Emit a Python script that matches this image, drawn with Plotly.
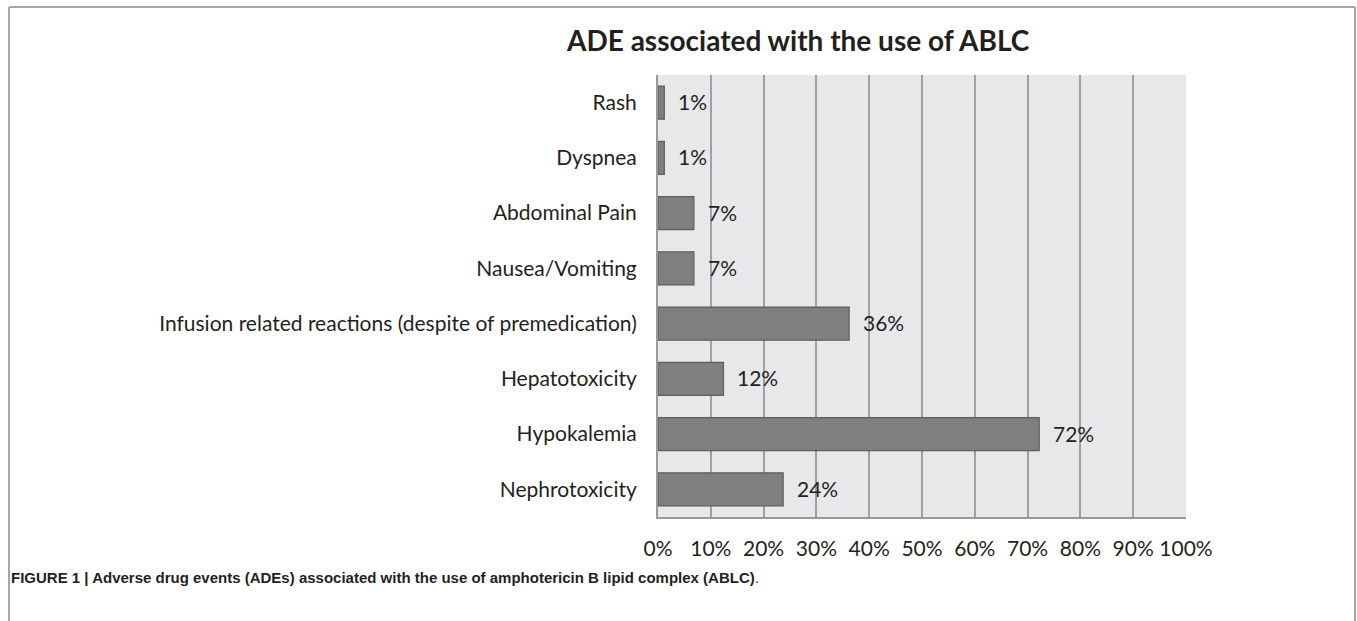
import plotly.graph_objects as go

categories = ["Nephrotoxicity", "Hypokalemia", "Hepatotoxicity",
              "Infusion related reactions (despite of premedication)",
              "Nausea/Vomiting", "Abdominal Pain", "Dyspnea", "Rash"]
values = [23.7, 72.2, 12.4, 36.2, 6.8, 6.8, 1.2, 1.2]
value_labels = ["24%", "72%", "12%", "36%", "7%", "7%", "1%", "1%"]
x_ticks = [0, 10, 20, 30, 40, 50, 60, 70, 80, 90, 100]
x_tick_labels = [f"{t}%" for t in x_ticks]

title_text = "ADE associated with the use of ABLC"
caption_text = ("<b>FIGURE 1 | Adverse drug events (ADEs) associated with the use of "
                "amphotericin B lipid complex (ABLC)</b>.")

W, H = 1357, 621
L, R, T, B = 658, 1186, 75, 517
pw, ph = R - L, B - T

def px(x):
    return (x - L) / pw

def py(y):
    return (B - y) / ph

FONT = "Lato"
TXT = "#231f20"

fig = go.Figure()
fig.add_trace(go.Bar(
    y=categories, x=values, orientation="h",
    marker=dict(color="#7f7f81", line=dict(color="#5e5e60", width=1.2)),
    width=0.6, hoverinfo="skip",
))

annotations = []
for c, v, lab in zip(categories, values, value_labels):
    annotations.append(dict(x=v, y=c, xref="x", yref="y", text=lab, showarrow=False,
                            xanchor="left", xshift=12, yshift=1,
                            font=dict(family=FONT, size=21, color=TXT)))
annotations.append(dict(x=px(798), y=py(40), xref="paper", yref="paper", text=f"<b>{title_text}</b>",
                        showarrow=False, xanchor="center", yanchor="middle",
                        font=dict(family=FONT, size=28, color=TXT)))
annotations.append(dict(x=px(9), y=py(577), xref="paper", yref="paper", text=caption_text,
                        showarrow=False, xanchor="left", yanchor="middle",
                        font=dict(family="Liberation Sans", size=15, color=TXT)))

border = dict(color="#a6a6a6", width=2)
shapes = [
    dict(type="line", xref="paper", yref="paper", x0=px(9), x1=px(9), y0=py(621), y1=py(7), line=border),
    dict(type="line", xref="paper", yref="paper", x0=px(9), x1=px(1355), y0=py(7), y1=py(7), line=border),
    dict(type="line", xref="paper", yref="paper", x0=px(1355), x1=px(1355), y0=py(7), y1=py(621), line=border),
]

fig.update_layout(
    width=W, height=H,
    margin=dict(l=L, r=W - R, t=T, b=H - B, pad=0),
    paper_bgcolor="white", plot_bgcolor="#e8e8ea",
    showlegend=False,
    annotations=annotations, shapes=shapes,
    bargap=0.4,
)
fig.update_xaxes(range=[0, 100], tickvals=x_ticks, ticktext=x_tick_labels,
                 showgrid=True, gridcolor="#a0a0a0", gridwidth=1.5,
                 showline=True, linecolor="#9a9a9a", linewidth=2,
                 ticks="", ticklabelstandoff=12, zeroline=False,
                 tickfont=dict(family=FONT, size=21, color=TXT), fixedrange=True)
fig.update_yaxes(categoryorder="array", categoryarray=categories,
                 range=[-0.5, len(categories) - 0.5],
                 showgrid=False, showline=True, linecolor="#9a9a9a", linewidth=2,
                 ticks="", ticklabelstandoff=15,
                 tickfont=dict(family=FONT, size=21, color=TXT), fixedrange=True)

fig.write_html("out.html", config={"displayModeBar": False},
               post_script="document.body.style.margin='0';document.body.style.overflow='hidden';")
